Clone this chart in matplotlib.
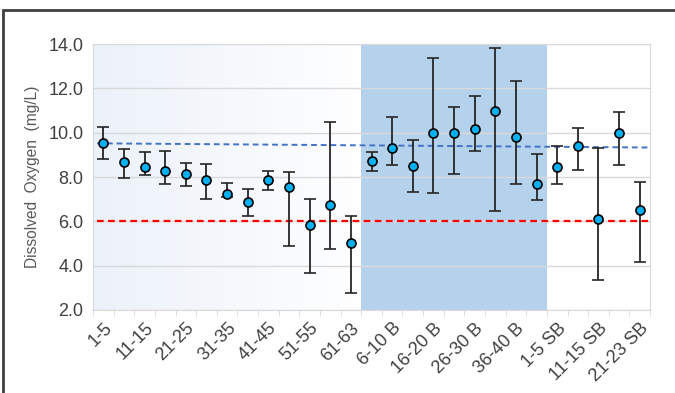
import numpy as np
import matplotlib.pyplot as plt
from matplotlib.patches import Rectangle
from matplotlib.colors import LinearSegmentedColormap

plt.rcParams["font.family"] = ["Liberation Sans", "DejaVu Sans"]

# Sites (27 categories; every other one is labelled)
sites = ["1-5", "6-10", "11-15", "16-20", "21-25", "26-30", "31-35", "36-40",
         "41-45", "46-50", "51-55", "56-60", "61-63",
         "1-5 B", "6-10 B", "11-15 B", "16-20 B", "21-25 B", "26-30 B",
         "31-35 B", "36-40 B", "41-45 B",
         "1-5 SB", "6-10 SB", "11-15 SB", "16-20 SB", "21-23 SB"]

# Mean dissolved oxygen (mg/L) and min / max range
do_mean = [9.52, 8.66, 8.47, 8.27, 8.12, 7.85, 7.25, 6.87, 7.87, 7.56, 5.84, 6.72, 5.02,
           8.71, 9.29, 8.51, 10.0, 10.0, 10.15, 10.98, 9.81, 7.68,
           8.47, 9.41, 6.11, 10.0, 6.53]
do_max = [10.26, 9.28, 9.14, 9.19, 8.62, 8.57, 7.72, 7.45, 8.29, 8.23, 7.01, 10.5, 6.25,
          9.14, 10.69, 9.67, 13.37, 11.17, 11.64, 13.8, 12.32, 9.04,
          9.39, 10.21, 9.29, 10.93, 7.79]
do_min = [8.81, 7.94, 8.09, 7.67, 7.61, 7.02, 7.08, 6.24, 7.41, 4.89, 3.68, 4.74, 2.78,
          8.27, 8.53, 7.32, 7.28, 8.14, 9.19, 6.47, 7.70, 6.98,
          7.67, 8.32, 3.36, 8.53, 4.18]

trend_ends = [9.52, 9.33]   # linear trend line, left and right ends
do_standard = 6.0           # minimum standard
b_sites = (13, 21)          # first / last index of the shaded "B" group

x = np.arange(len(sites))
mean = np.array(do_mean)
yerr = [mean - np.array(do_min), np.array(do_max) - mean]

fig = plt.figure(figsize=(6.75, 3.93), dpi=100)
ax = fig.add_axes([0.1378, 0.2112, 0.8252, 0.6768])

# soft blue gradient behind the first group, shaded band for the B group
cmap = LinearSegmentedColormap.from_list("bg", ["#ecf2fa", "#ffffff"])
ax.imshow(np.linspace(0, 1, 256).reshape(1, -1), cmap=cmap, aspect="auto",
          extent=(-0.5, 13.0, 2, 14), zorder=0)
ax.axvspan(b_sites[0] - 0.5, b_sites[1] + 0.5, color="#b4d2ec", lw=0, zorder=0.5)

ax.set_yticks(np.arange(2, 15, 2))
ax.grid(axis="y", color="#d9d9d9", lw=1, zorder=1)

xl = [-0.3, len(sites) - 0.5]
ax.plot(xl, trend_ends, ls=(0, (3, 2)), color="#4472c4", lw=1.4, zorder=2)
ax.plot(xl, [do_standard, do_standard], ls=(0, (3, 2)), color="#ff0000", lw=1.6, zorder=2)

ax.errorbar(x, mean, yerr=yerr, fmt="o", ms=6.5, mfc="#00b0f0", mec="black", mew=1.2,
            ecolor="#262626", elinewidth=1.3, capsize=4, capthick=1.5, zorder=3)

ax.set_xlim(-0.5, len(sites) - 0.5)
ax.set_ylim(2, 14)
ax.set_yticklabels([f"{v:.1f}" for v in np.arange(2, 15, 2)], fontsize=13, color="#404040")
ax.set_xticks(x[::2])
ax.set_xticklabels(sites[::2], rotation=45, ha="right", rotation_mode="anchor",
                   fontsize=13, color="#404040")
ax.set_xticks(np.arange(-0.5, len(sites), 1), minor=True)
ax.tick_params(axis="x", which="major", length=0, pad=7)
ax.tick_params(axis="x", which="minor", length=4, color="#d9d9d9")
ax.tick_params(axis="y", length=0, pad=7)
for s in ax.spines.values():
    s.set_color("#d9d9d9")
ax.set_ylabel("Dissolved  Oxygen  (mg/L)", fontsize=11.2, color="#595959", labelpad=6)

# dark frame around the figure (cut off at right and bottom)
fig.patches.append(Rectangle((3 / 675, -0.2), 1.2, (393 - 10) / 393 + 0.2,
                             transform=fig.transFigure, fill=False,
                             ec="#404040", lw=2))

fig.savefig("out.png", dpi=100)
